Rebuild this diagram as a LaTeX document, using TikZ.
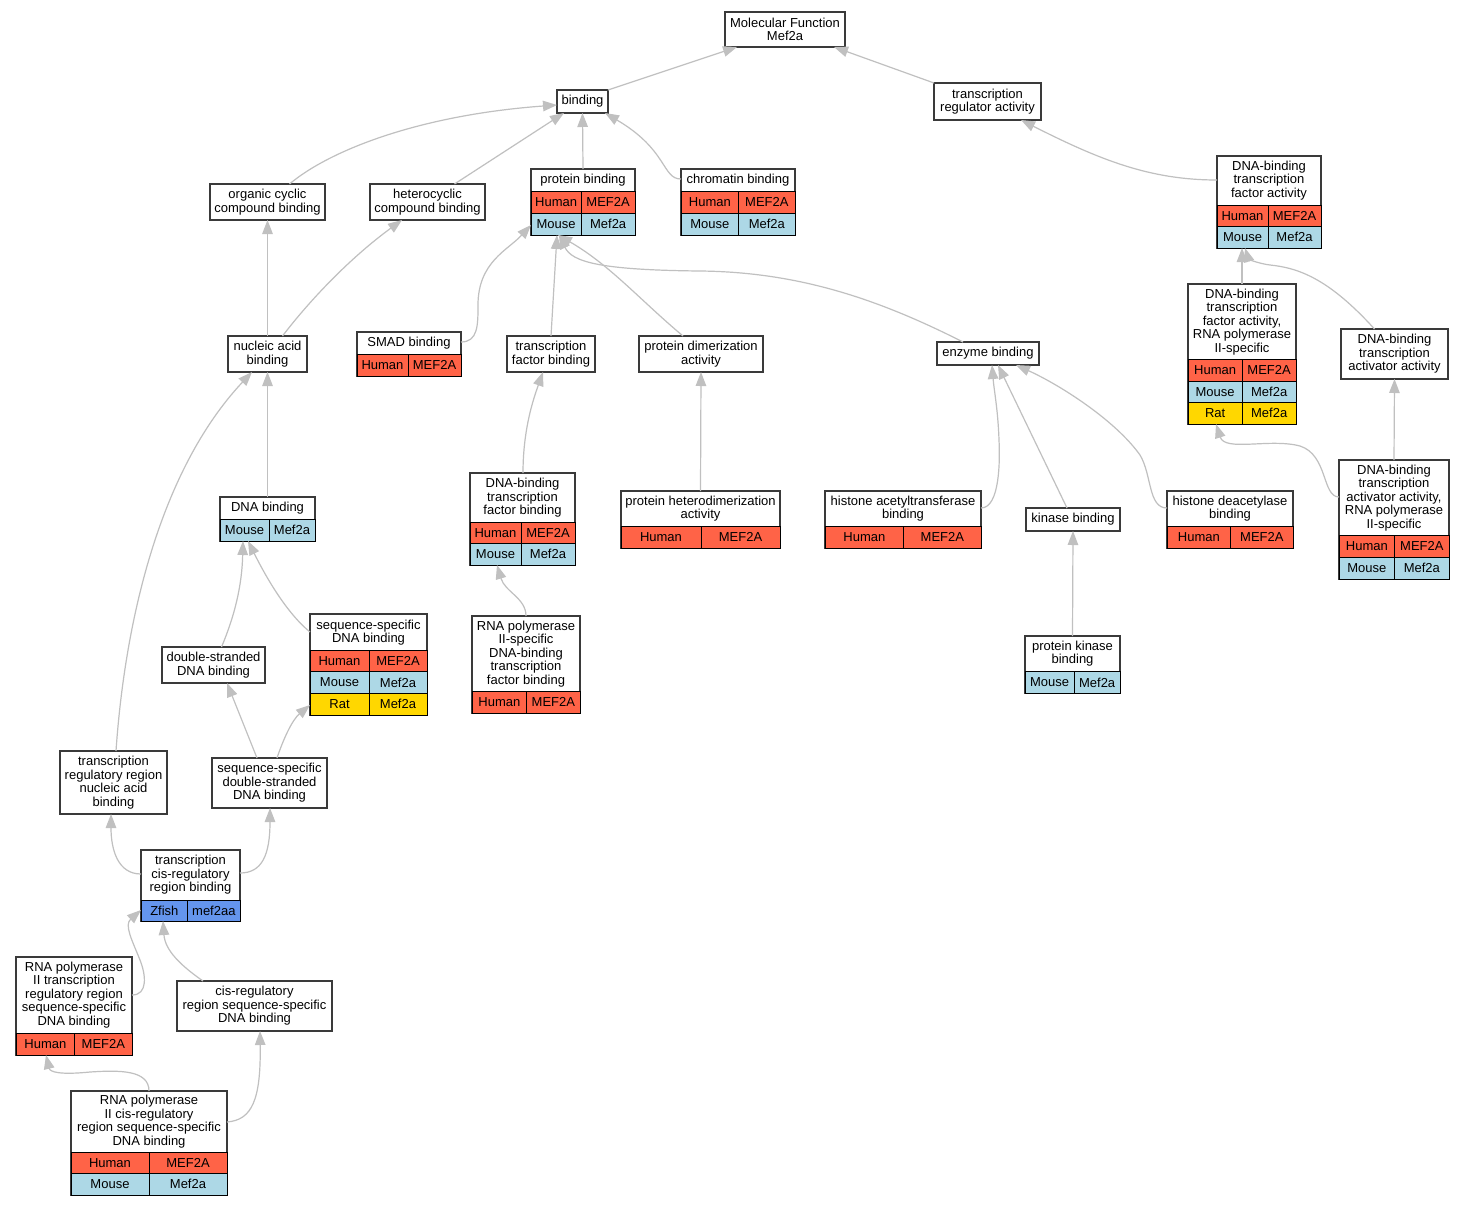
\documentclass[tikz,border=0pt]{standalone}
\usepackage{fontspec}
\setmainfont{Liberation Sans}
\usetikzlibrary{arrows.meta,calc}
\definecolor{human}{HTML}{FF6347}
\definecolor{mouse}{HTML}{ADD8E6}
\definecolor{rat}{HTML}{FFD700}
\definecolor{zfish}{HTML}{6495ED}
\definecolor{edgec}{HTML}{C0C0C0}
\definecolor{boxc}{HTML}{3A3A3A}
\newcommand\gofont{\fontsize{13}{13.5}\selectfont}
\tikzset{
  gobox/.style={draw=boxc, fill=white, line width=1.4pt, inner sep=0pt, outer sep=0pt, rectangle},
  gotext/.style={inner sep=0pt, align=center, font=\gofont},
  gocellst/.style={draw=black, line width=1pt, inner sep=0pt, outer sep=0pt, rectangle, font=\gofont},
  goedge/.style={draw=edgec, line width=1.2pt, -{Triangle[length=14pt,width=10.5pt]}},
}
% name, x1, y1, x2, y2, title bottom, text
\newcommand\gonode[7]{%
  \node[gobox, minimum width={#4-#2}, minimum height={#5-#3}] (#1) at ({(#2+#4)/2},{(#3+#5)/2}) {};
  \node[gotext] (#1-t) at ({(#2+#4)/2},{(#3+#6)/2}) {#7};}
% name, x1, xsplit, x2, y1, y2, colour, species, gene
\newcommand\gorow[9]{%
  \node[gocellst, fill=#7, minimum width={#3-#2}, minimum height={#6-#5}] (#1-a) at ({(#2+#3)/2},{(#5+#6)/2}) {#8};
  \node[gocellst, fill=#7, minimum width={#4-#3}, minimum height={#6-#5}] (#1-b) at ({(#3+#4)/2},{(#5+#6)/2}) {#9};}
\begin{document}
\begin{tikzpicture}[x=1pt,y=-1pt]
\useasboundingbox (0,0) rectangle (1464,1205);
\fill[white] (0,0) rectangle (1464,1205);

% ---------------- nodes
\gonode{mf}{725}{12}{845}{47}{47}{Molecular Function\\Mef2a}
\gonode{bind}{557}{90}{608}{113}{113}{binding}
\gonode{tra}{934}{83}{1041}{120}{120}{transcription\\regulator activity}
\gonode{occ}{210}{184}{325}{220}{220}{organic cyclic\\compound binding}
\gonode{hcc}{370}{184}{485}{220}{220}{heterocyclic\\compound binding}

\gonode{pb}{531}{169}{635}{235}{191.5}{protein binding}
\gorow{pb-h}{531}{581.3}{635}{191.5}{213.3}{human}{Human}{MEF2A}
\gorow{pb-m}{531}{581.3}{635}{213.3}{235}{mouse}{Mouse}{Mef2a}

\gonode{cb}{681}{169}{795}{235}{191.5}{chromatin binding}
\gorow{cb-h}{681}{738.7}{795}{191.5}{213.3}{human}{Human}{MEF2A}
\gorow{cb-m}{681}{738.7}{795}{213.3}{235}{mouse}{Mouse}{Mef2a}

\gonode{dbtfa}{1217}{156}{1321}{248}{205}{DNA-binding\\transcription\\factor activity}
\gorow{dbtfa-h}{1217}{1268}{1321}{205}{226.5}{human}{Human}{MEF2A}
\gorow{dbtfa-m}{1217}{1268}{1321}{226.5}{248}{mouse}{Mouse}{Mef2a}

\gonode{nab}{228}{336}{307}{372}{372}{nucleic acid\\binding}

\gonode{smad}{357}{332}{461}{376}{354}{SMAD binding}
\gorow{smad-h}{357}{408}{461}{354}{376}{human}{Human}{MEF2A}

\gonode{tfb}{507}{336}{595}{372}{372}{transcription\\factor binding}
\gonode{pda}{639}{336}{763}{372}{372}{protein dimerization\\activity}
\gonode{eb}{937}{342}{1039}{365}{365}{enzyme binding}

\gonode{dbtfa2}{1188}{284}{1296}{424}{359.5}{DNA-binding\\transcription\\factor activity,\\RNA polymerase\\II-specific}
\gorow{dbtfa2-h}{1188}{1242.3}{1296}{359.5}{381}{human}{Human}{MEF2A}
\gorow{dbtfa2-m}{1188}{1242.3}{1296}{381}{402.7}{mouse}{Mouse}{Mef2a}
\gorow{dbtfa2-r}{1188}{1242.3}{1296}{402.7}{424}{rat}{Rat}{Mef2a}

\gonode{dbtaa}{1341}{329}{1448}{379}{379}{DNA-binding\\transcription\\activator activity}

\gonode{dnab}{220}{497}{315}{541}{519.3}{DNA binding}
\gorow{dnab-m}{220}{269}{315}{519.3}{541}{mouse}{Mouse}{Mef2a}

\gonode{dbtfb}{470}{473}{575}{565}{522.3}{DNA-binding\\transcription\\factor binding}
\gorow{dbtfb-h}{470}{521}{575}{522.3}{543.7}{human}{Human}{MEF2A}
\gorow{dbtfb-m}{470}{521}{575}{543.7}{565}{mouse}{Mouse}{Mef2a}

\gonode{phda}{621}{491}{780}{548}{526.7}{protein heterodimerization\\activity}
\gorow{phda-h}{621}{701}{780}{526.7}{548}{human}{Human}{MEF2A}

\gonode{hatb}{825}{491}{981}{548}{526.7}{histone acetyltransferase\\binding}
\gorow{hatb-h}{825}{903.7}{981}{526.7}{548}{human}{Human}{MEF2A}

\gonode{kb}{1026}{508}{1120}{531}{531}{kinase binding}

\gonode{hdb}{1167}{491}{1293}{548}{526.7}{histone deacetylase\\binding}
\gorow{hdb-h}{1167}{1230.7}{1293}{526.7}{548}{human}{Human}{MEF2A}

\gonode{dbtaa2}{1339}{460}{1449}{579}{535.7}{DNA-binding\\transcription\\activator activity,\\RNA polymerase\\II-specific}
\gorow{dbtaa2-h}{1339}{1394.7}{1449}{535.7}{557}{human}{Human}{MEF2A}
\gorow{dbtaa2-m}{1339}{1394.7}{1449}{557}{579}{mouse}{Mouse}{Mef2a}

\gonode{pkb}{1025}{636}{1120}{693}{671.7}{protein kinase\\binding}
\gorow{pkb-m}{1025}{1074.3}{1120}{671.7}{693}{mouse}{Mouse}{Mef2a}

\gonode{rpdbtfb}{472}{616}{580}{713}{691.7}{RNA polymerase\\II-specific\\DNA-binding\\transcription\\factor binding}
\gorow{rpdbtfb-h}{472}{526.7}{580}{691.7}{713}{human}{Human}{MEF2A}

\gonode{dsdb}{162}{647}{265}{683}{683}{double-stranded\\DNA binding}

\gonode{ssdb}{310}{614}{427}{715}{650.8}{sequence-specific\\DNA binding}
\gorow{ssdb-h}{310}{369}{427}{650.8}{671.7}{human}{Human}{MEF2A}
\gorow{ssdb-m}{310}{369}{427}{671.7}{693.4}{mouse}{Mouse}{Mef2a}
\gorow{ssdb-r}{310}{369}{427}{693.4}{715}{rat}{Rat}{Mef2a}

\gonode{trrnab}{60}{751}{167}{814}{814}{transcription\\regulatory region\\nucleic acid\\binding}
\gonode{ssdsdb}{212}{758}{327}{808}{808}{sequence-specific\\double-stranded\\DNA binding}

\gonode{tcrb}{141}{850}{240}{921}{900}{transcription\\cis-regulatory\\region binding}
\gorow{tcrb-z}{141}{187.7}{240}{900}{921}{zfish}{Zfish}{mef2aa}

\gonode{rp2trr}{16}{957}{132}{1055}{1033}{RNA polymerase\\II transcription\\regulatory region\\sequence-specific\\DNA binding}
\gorow{rp2trr-h}{16}{74.7}{132}{1033}{1055}{human}{Human}{MEF2A}

\gonode{crssdb}{177}{981}{332}{1031}{1031}{cis-regulatory\\region sequence-specific\\DNA binding}

\gonode{rp2cr}{71}{1091}{227}{1195}{1152}{RNA polymerase\\II cis-regulatory\\region sequence-specific\\DNA binding}
\gorow{rp2cr-h}{71}{149}{227}{1152}{1173.5}{human}{Human}{MEF2A}
\gorow{rp2cr-m}{71}{149}{227}{1173.5}{1195}{mouse}{Mouse}{Mef2a}

% ---------------- edges (child -> parent)
\draw[goedge] (bind.north east) -- ($(mf.south west)+(12,0)$);
\draw[goedge] (tra.north west) -- ($(mf.south east)+(-11,0)$);
\draw[goedge] ($(occ.north)+(22,0)$) .. controls (330,150) and (420,115) .. ($(bind.south west)+(0,-8)$);
\draw[goedge] ($(hcc.north)+(27,0)$) -- ($(bind.south west)+(7,0)$);
\draw[goedge] (pb.north) -- ($(bind.south)+(0,0)$);
\draw[goedge] ($(cb.north west)+(0,10)$) .. controls (662,179) and (668,150) .. ($(bind.south east)+(-3,0)$);
\draw[goedge] ($(dbtfa.north west)+(0,24)$) .. controls (1150,180) and (1100,160) .. ($(tra.south east)+(-20,0)$);
\draw[goedge] (nab.north) -- (occ.south);
\draw[goedge] ($(nab.north)+(15,0)$) .. controls (310,300) and (350,258) .. ($(hcc.south west)+(32,0)$);
\draw[goedge] ($(smad.north east)+(0,10)$) .. controls (478,342) and (478,325) .. (478,305)
   .. controls (478,262) and (508,250) .. ($(pb.south west)+(0,-10)$);
\draw[goedge] (tfb.north) -- ($(pb.south)+(-26,0)$);
\draw[goedge] ($(pda.north)+(-18,0)$) .. controls (640,300) and (610,265) .. ($(pb.south)+(-25,0)$);
\draw[goedge] ($(eb.north)+(-25,0)$) .. controls (880,300) and (800,272) .. (700,271)
   .. controls (600,270) and (572,262) .. ($(pb.south)+(-24,0)$);
\draw[goedge] (dbtfa2.north) -- ($(dbtfa.south west)+(25,0)$);
\draw[goedge] ($(dbtaa.north)+(-20,0)$) .. controls (1330,280) and (1300,268) .. (1270,265)
   .. controls (1255,263) and (1248,258) .. ($(dbtfa.south west)+(28,0)$);
\draw[goedge] (dbtaa2.north) -- (dbtaa.south);
\draw[goedge] ($(dbtaa2.north west)+(0,37)$) .. controls (1322,497) and (1328,455) .. (1300,446)
   .. controls (1270,438) and (1225,452) .. ($(dbtfa2.south west)+(28,0)$);
\draw[goedge] (dnab.north) -- (nab.south);
\draw[goedge] ($(trrnab.north)+(2.5,0)$) .. controls (125,620) and (160,470) .. ($(nab.south west)+(24,0)$);
\draw[goedge] ($(dbtfb.north)+(0.5,0)$) .. controls (523,430) and (533,400) .. ($(tfb.south)+(-8,0)$);
\draw[goedge] (phda.north) -- (pda.south);
\draw[goedge] ($(hatb.north east)+(0,17)$) .. controls (1000,508) and (1000,460) .. (999,440)
   .. controls (998,410) and (994,390) .. ($(eb.south west)+(55,0)$);
\draw[goedge] ($(kb.north)+(-6,0)$) -- ($(eb.south west)+(61,0)$);
\draw[goedge] ($(hdb.north west)+(0,17)$) .. controls (1148,508) and (1152,475) .. (1140,455)
   .. controls (1115,420) and (1060,385) .. ($(eb.south east)+(-23,0)$);
\draw[goedge] (pkb.north) -- (kb.south);
\draw[goedge] (rpdbtfb.north) .. controls (526,598) and (505,592) .. ($(dbtfb.south west)+(27,0)$);
\draw[goedge] ($(dsdb.north)+(8,0)$) .. controls (235,615) and (242,585) .. ($(dnab.south west)+(23,0)$);
\draw[goedge] ($(ssdb.north west)+(0,18)$) .. controls (295,620) and (275,595) .. ($(dnab.south west)+(28,0)$);
\draw[goedge] ($(ssdsdb.north west)+(45,0)$) -- ($(dsdb.south west)+(65,0)$);
\draw[goedge] ($(ssdsdb.north west)+(65,0)$) .. controls (283,740) and (292,720) .. ($(ssdb.south west)+(0,-10)$);
\draw[goedge] ($(tcrb.north west)+(0,24)$) .. controls (118,874) and (111,850) .. ($(trrnab.south west)+(51,0)$);
\draw[goedge] ($(tcrb.north east)+(0,23)$) .. controls (262,873) and (270,855) .. ($(ssdsdb.south west)+(58,0)$);
\draw[goedge] ($(rp2trr.north east)+(0,38)$) .. controls (148,995) and (146,975) .. (140,960)
   .. controls (132,940) and (124,925) .. ($(tcrb.south west)+(0,-11)$);
\draw[goedge] ($(crssdb.north west)+(26,0)$) .. controls (180,965) and (165,950) .. ($(tcrb.south west)+(22,0)$);
\draw[goedge] (rp2cr.north) .. controls (149,1070) and (120,1070) .. (90,1072)
   .. controls (60,1075) and (50,1072) .. ($(rp2trr.south west)+(30,0)$);
\draw[goedge] ($(rp2cr.north east)+(0,31)$) .. controls (252,1120) and (261,1100) .. ($(crssdb.south west)+(83,0)$);
\end{tikzpicture}
\end{document}
